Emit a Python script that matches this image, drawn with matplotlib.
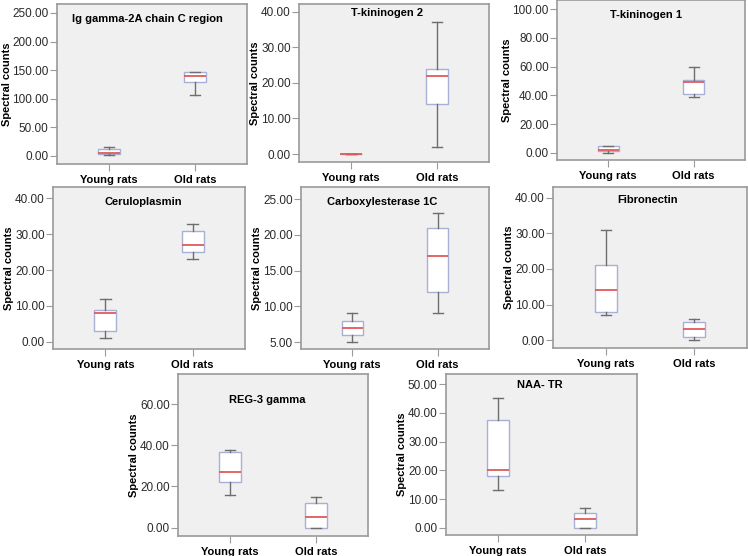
import matplotlib
matplotlib.use("Agg")
import matplotlib.pyplot as plt

plt.rcParams['font.family'] = ['Liberation Sans', 'DejaVu Sans']

groups = ["Young rats", "Old rats"]
titles = ["Ig gamma-2A chain C region", "T-kininogen 2", "T-kininogen 1",
          "Ceruloplasmin", "Carboxylesterase 1C", "Fibronectin",
          "REG-3 gamma", "NAA- TR"]

# five-number summaries per group: [whisker low, Q1, median, Q3, whisker high]
ig_young = [2, 4, 6, 13, 15]
ig_old = [107, 129, 140, 147, 147]
tk2_young = [0, 0, 0, 0, 0]
tk2_old = [2, 14, 22, 24, 37]
tk1_young = [0, 1, 2, 4.5, 5]
tk1_old = [39, 41, 49, 51, 60]
cer_young = [1, 3, 8, 9, 12]
cer_old = [23, 25, 27, 31, 33]
carb_young = [5, 6, 7, 8, 9]
carb_old = [9, 12, 17, 21, 23]
fib_young = [7, 8, 14, 21, 31]
fib_old = [0, 1, 3, 5, 6]
reg_young = [16, 22, 27, 36.5, 37.5]
reg_old = [0, 0, 5, 12, 15]
naa_young = [13, 18, 20, 37.5, 45]
naa_old = [0, 0, 3, 5, 7]

summaries = [(ig_young, ig_old), (tk2_young, tk2_old), (tk1_young, tk1_old),
             (cer_young, cer_old), (carb_young, carb_old), (fib_young, fib_old),
             (reg_young, reg_old), (naa_young, naa_old)]

yticks = [[0, 50, 100, 150, 200, 250], [0, 10, 20, 30, 40], [0, 20, 40, 60, 80, 100],
          [0, 10, 20, 30, 40], [5, 10, 15, 20, 25], [0, 10, 20, 30, 40],
          [0, 20, 40, 60], [0, 10, 20, 30, 40, 50]]
ylims = [(-14, 265.7), (-2.24, 42.2), (-5.1, 106.5), (-2.0, 43.2),
         (4.03, 26.7), (-2.2, 43.0), (-4.1, 74.6), (-2.5, 53.5)]

# layout in pixels: x0, y0, x1, y1 (from top-left)
boxes_px = [(57, 4, 247, 164), (299, 4, 489, 162), (557, 0, 745, 160),
            (53, 187, 245, 349), (301, 187, 489, 349), (553, 187, 747, 348),
            (178, 374, 368, 536), (446, 374, 637, 535)]
title_pos = [(0.474, 0.906), (0.463, 0.943), (0.473, 0.906), (0.469, 0.908),
             (0.43, 0.908), (0.49, 0.92), (0.468, 0.84), (0.49, 0.93)]

W, H = 748, 556
fig = plt.figure(figsize=(W / 100, H / 100), dpi=100)
fig.patch.set_facecolor("white")

spine_col = "#9a9a9a"
box_col = "#a9b0d6"
whisk_col = "#6e6e6e"
med_col = "#e05a5a"
text_col = "#2a2a2a"

for i in range(8):
    x0, y0, x1, y1 = boxes_px[i]
    ax = fig.add_axes([x0 / W, 1 - y1 / H, (x1 - x0) / W, (y1 - y0) / H])
    ax.set_facecolor("#f0f0f0")
    stats = []
    for g, s in zip(groups, summaries[i]):
        stats.append(dict(whislo=s[0], q1=s[1], med=s[2], q3=s[3], whishi=s[4],
                          fliers=[], label=g))
    ax.bxp(stats, positions=[1, 2], widths=0.25, capwidths=0.12, showfliers=False,
           patch_artist=True,
           boxprops=dict(facecolor="white", edgecolor=box_col, linewidth=1.0),
           whiskerprops=dict(color=whisk_col, linewidth=1.0),
           capprops=dict(color=whisk_col, linewidth=1.0),
           medianprops=dict(color=med_col, linewidth=1.3))
    ax.set_xlim(0.4, 2.6)
    ax.set_ylim(*ylims[i])
    ax.set_yticks(yticks[i])
    ax.set_yticklabels(["%.2f" % v for v in yticks[i]])
    ax.set_xticks([1, 2])
    ax.set_xticklabels(groups, fontweight="bold", fontsize=8, color="black")
    ax.tick_params(axis="y", labelsize=8.5, colors=spine_col, labelcolor=text_col,
                   length=5, width=0.8, pad=1)
    ax.tick_params(axis="x", colors=spine_col, labelcolor="black",
                   length=5, width=0.8, pad=3)
    for sp in ax.spines.values():
        sp.set_color(spine_col)
        sp.set_linewidth(1.2)
    ax.set_ylabel("Spectral counts", fontweight="bold", fontsize=8, labelpad=0.5)
    ax.text(title_pos[i][0], title_pos[i][1], titles[i], transform=ax.transAxes,
            ha="center", va="center", fontweight="bold", fontsize=8)

fig.savefig("out.png", dpi=100, facecolor="white")
